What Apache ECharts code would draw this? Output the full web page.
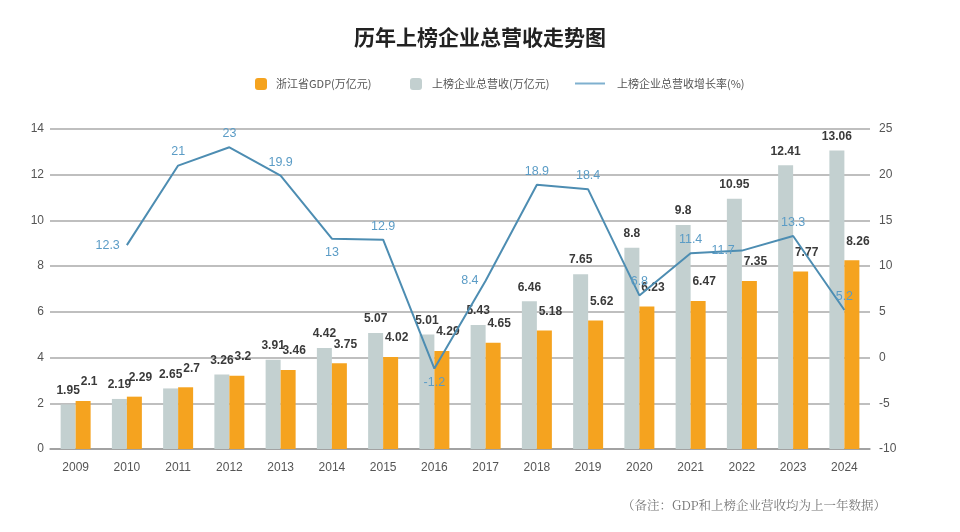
<!DOCTYPE html>
<html><head><meta charset="utf-8">
<script src="https://cdn.jsdelivr.net/npm/echarts@6/dist/echarts.min.js"></script>
<style>html,body{margin:0;padding:0;background:#fff}#c{width:960px;height:532px}</style>
</head><body><div id="c"></div>
<script>
const years = ['2009','2010','2011','2012','2013','2014','2015','2016','2017','2018','2019','2020','2021','2022','2023','2024'];
const revenue = [1.95,2.19,2.65,3.26,3.91,4.42,5.07,5.01,5.43,6.46,7.65,8.8,9.8,10.95,12.41,13.06];
const gdp = [2.1,2.29,2.7,3.2,3.46,3.75,4.02,4.29,4.65,5.18,5.62,6.23,6.47,7.35,7.77,8.26];
const growth = [null,12.3,21,23,19.9,13,12.9,-1.2,8.4,18.9,18.4,6.8,11.4,11.7,13.3,5.2];
const growthLabelPos = [null,'left','top','top','top','bottom','top','bottom','left','top','top','top','top','left','top','top'];
const leftTicks = {min:0,max:14,interval:2};
const rightTicks = {min:-10,max:25,interval:5};

const nameGdp = '浙江省GDP(万亿元)';
const nameRev = '上榜企业总营收(万亿元)';
const nameGrowth = '上榜企业总营收增长率(%)';

const font = 'Liberation Sans, Arial, sans-serif';
const cjk = 'Noto Sans CJK SC, sans-serif';

const chart = echarts.init(document.getElementById('c'), null, {renderer:'canvas'});
chart.setOption({
  backgroundColor:'#fff',
  animation:false,
  title:{text:'历年上榜企业总营收走势图',left:'center',top:22,textStyle:{fontSize:21,fontWeight:'bold',color:'#222',fontFamily:cjk}},
  legend:[
    {data:[nameGdp],left:255,top:78,padding:0,itemWidth:12,itemHeight:12,itemGap:0,textStyle:{fontSize:11,color:'#555',fontFamily:cjk,padding:[0,0,0,4]}},
    {data:[nameRev],left:410,top:78,padding:0,itemWidth:12,itemHeight:12,itemGap:0,textStyle:{fontSize:11,color:'#555',fontFamily:cjk,padding:[0,0,0,5]}},
    {data:[{name:nameGrowth,icon:'rect',itemStyle:{color:'#7fb0cf'}}],left:575,top:78,padding:0,itemWidth:30,itemHeight:2,itemGap:0,textStyle:{fontSize:11,color:'#555',fontFamily:cjk,padding:[0,0,0,7]}}
  ],
  grid:{left:50,right:90,top:129,bottom:83},
  xAxis:{type:'category',data:years,axisTick:{show:false},
    axisLine:{lineStyle:{color:'#999',width:1.5}},
    axisLabel:{color:'#555',fontSize:12,margin:13,fontFamily:font}},
  yAxis:[
    {type:'value',min:leftTicks.min,max:leftTicks.max,interval:leftTicks.interval,
      axisLine:{show:false},axisTick:{show:false},
      axisLabel:{color:'#555',fontSize:12,margin:6,fontFamily:font},
      splitLine:{lineStyle:{color:'#aaa',width:1.5}}},
    {type:'value',min:rightTicks.min,max:rightTicks.max,interval:rightTicks.interval,position:'right',
      axisLine:{show:false},axisTick:{show:false},
      axisLabel:{color:'#555',fontSize:12,margin:9,fontFamily:font},
      splitLine:{show:false}}
  ],
  series:[
    {name:nameRev,type:'bar',data:revenue,barWidth:15,barGap:'0%',itemStyle:{color:'#c3d0d0'},
      label:{show:true,position:'top',color:'#3a3a3a',fontSize:12,fontWeight:'bold',fontFamily:font,distance:8}},
    {name:nameGdp,type:'bar',data:gdp,barWidth:15,barGap:'0%',itemStyle:{color:'#f5a31f'},
      label:{show:true,position:'top',color:'#3a3a3a',fontSize:12,fontWeight:'bold',fontFamily:font,distance:13,offset:[6,0]}},
    {name:nameGrowth,type:'line',yAxisIndex:1,symbol:'circle',symbolSize:0.1,showSymbol:true,
      lineStyle:{color:'#4d8db2',width:2},itemStyle:{color:'#4d8db2'},
      data:growth.map((v,i)=>v===null?null:{value:v,label:{position:growthLabelPos[i]}}),
      label:{show:true,color:'#5b9cc6',fontSize:12.5,distance:7,fontFamily:font},
      z:5}
  ],
  graphic:[{type:'text',right:74,top:499,style:{text:'（备注：GDP和上榜企业营收均为上一年数据）',fill:'#777',fontSize:12.5,fontFamily:'Noto Serif CJK SC, serif'}}]
});
</script></body></html>
